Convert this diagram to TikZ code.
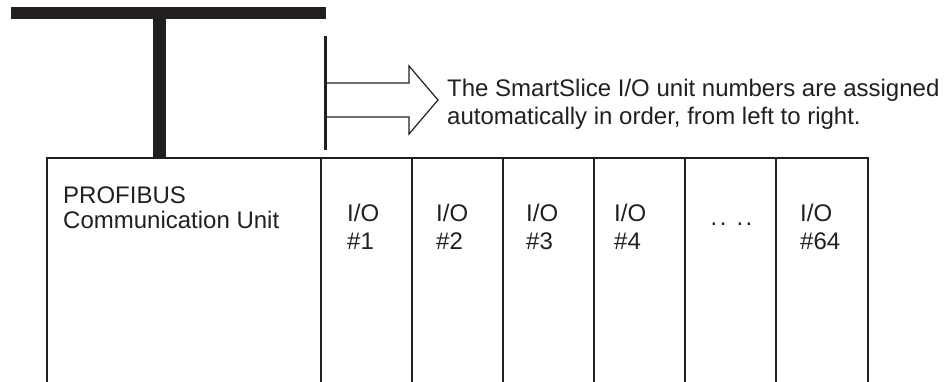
\documentclass[tikz,border=0pt]{standalone}
\usepackage{fontspec}
\setmainfont{Liberation Sans}
\definecolor{ink}{HTML}{231F20}
\begin{document}
\begin{tikzpicture}[x=1pt,y=-1pt,
  txt/.style={anchor=base west,inner sep=0pt,text=ink,font=\fontsize{24}{28}\selectfont},
  boxline/.style={draw=ink,line width=1.5pt},
  arrowline/.style={draw=ink,line width=1.2pt,line join=miter}]
\useasboundingbox (0,0) rectangle (951,382);
% bus and stem
\fill[ink] (11,7.5) rectangle (326,19.5);
\fill[ink] (153,19) rectangle (166,158);
% thin vertical line
\coordinate (vt) at (325,36);
\coordinate (vb) at (325,150);
\draw[ink,line width=3pt] (vt) -- (vb);
% arrow
\draw[arrowline] (325,83) -- (409,83) -- (409,66) -- (438,100) -- (409,134) -- (409,117) -- (325,117);
% units box
\draw[boxline] (47,382) -- (47,158) -- (868,158) -- (868,382);
\foreach \x in {321,412,503,594,685,776} \draw[boxline] (\x,158) -- (\x,382);
% texts
\node[txt] (t1) at (447,96.5) {The SmartSlice I/O unit numbers are assigned};
\node[txt] (t2) at (447,125) {automatically in order, from left to right.};
\node[txt] (p1) at (63,203.5) {PROFIBUS};
\node[txt] (p2) at (63,229) {Communication Unit};
\node[txt] (a1) at (347,221.5) {I/O};
\node[txt] (a2) at (347,250) {\#1};
\node[txt] (b1) at (436,221.5) {I/O};
\node[txt] (b2) at (436,250) {\#2};
\node[txt] (c1) at (526,221.5) {I/O};
\node[txt] (c2) at (526,250) {\#3};
\node[txt] (d1) at (614,221.5) {I/O};
\node[txt] (d2) at (614,250) {\#4};
\node[txt] (dots) at (710.5,226) {.\hspace{2.5pt}.\hspace{10pt}.\hspace{2.5pt}.};
\node[txt] (e1) at (800,221.5) {I/O};
\node[txt] (e2) at (800,250) {\#64};
\end{tikzpicture}
\end{document}
